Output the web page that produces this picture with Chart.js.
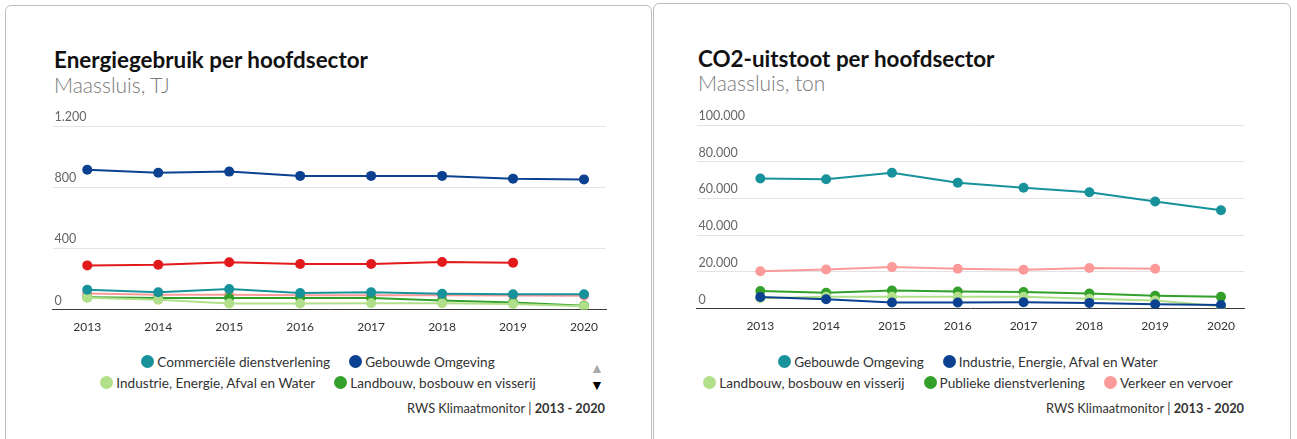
<!DOCTYPE html>
<html lang="nl">
<head>
<meta charset="utf-8">
<script src="https://cdn.jsdelivr.net/npm/chart.js@4.4.1/dist/chart.umd.min.js"></script>
<style>
  body { margin: 0; width: 1297px; height: 439px; overflow: hidden; background: #fff; font-family: Lato, "Open Sans", sans-serif; color: #333; position: relative; }
  .card { position: absolute; border: 1px solid #bdbdbd; border-radius: 6px; background: #fff; height: 480px; }
  .title { position: absolute; font-weight: 700; font-size: 22.4px; line-height: 26px; color: #111; white-space: nowrap; }
  .subtitle { position: absolute; font-weight: 300; font-size: 21px; line-height: 26px; color: #7a7a7a; white-space: nowrap; }
  .plot { position: absolute; }
  .legend { position: absolute; font-size: 13.6px; color: #333; }
  .legend .row { display: flex; justify-content: center; gap: 19px; height: 21px; align-items: center; }
  .legend .item { display: flex; align-items: center; white-space: nowrap; }
  .legend .dot { width: 13px; height: 13px; border-radius: 50%; margin-right: 3px; }
  .credits { position: absolute; font-size: 12.8px; line-height: 16px; text-align: right; white-space: nowrap; }
  .pager { position: absolute; font-size: 14px; line-height: 15px; text-align: center; width: 16px; }
</style>
</head>
<body>

<div class="card" style="left:5px; top:5px; width:645px;"></div>
<div class="card" style="left:653px; top:3px; width:636px;"></div>

<div class="title" style="left:54px; top:47px;">Energiegebruik per hoofdsector</div>
<div class="subtitle" style="left:54px; top:72px;">Maassluis, TJ</div>
<canvas id="energie" class="plot" width="575" height="250" style="left:45px; top:100px;"></canvas>
<div class="legend" id="legend-energie" style="left:100px; top:351px; width:436px;"></div>
<div class="pager" style="left:589px; top:360px; color:#aaa;">▲</div>
<div class="pager" style="left:589px; top:377px; color:#000;">▼</div>
<div class="credits" style="left:405px; top:400px; width:200px;">RWS Klimaatmonitor | <b>2013 - 2020</b></div>

<div class="title" style="left:698px; top:46px;">CO2-uitstoot per hoofdsector</div>
<div class="subtitle" style="left:698px; top:70px;">Maassluis, ton</div>
<canvas id="co2" class="plot" width="570" height="250" style="left:690px; top:100px;"></canvas>
<div class="legend" id="legend-co2" style="left:698px; top:351px; width:540px;"></div>
<div class="credits" style="left:1044px; top:400px; width:200px;">RWS Klimaatmonitor | <b>2013 - 2020</b></div>

<script>
(function () {
	'use strict';

	// jaren op de x-as
	const years = [2013, 2014, 2015, 2016, 2017, 2018, 2019, 2020];

	// Energiegebruik, TJ
	const energieCommercieel = [130, 113, 135, 109, 113, 104, 100, 100];
	const energieGebouwd = [914, 895, 902, 874, 874, 874, 856, 851];
	const energieIndustrie = [78, 65, 40, 40, 42, 42, 37, 22];
	const energieLandbouw = [80, 76, 76, 76, 76, 60, 46, 25];
	const energiePubliek = [106, 97, 97, 94, 94, 93, 92, 90];
	const energieVerkeer = [289, 293, 309, 298, 298, 311, 307, null];
	const energieTicks = [0, 400, 800, 1200];

	// CO2-uitstoot, ton
	const co2Gebouwd = [70900, 70500, 74000, 68600, 65800, 63400, 58300, 53600];
	const co2Industrie = [6300, 5100, 3300, 3300, 3500, 3100, 2400, 2000];
	const co2Landbouw = [5600, 6400, 6400, 6400, 6400, 5300, 4400, 1300];
	const co2Publiek = [9600, 8600, 9800, 9300, 9000, 8200, 7000, 6400];
	const co2Verkeer = [20300, 21300, 22600, 21700, 21200, 22100, 21700, null];
	const co2Ticks = [0, 20000, 40000, 60000, 80000, 100000];

	const colors = ['#17929b', '#0b4190', '#b2df8a', '#33a02c', '#fb9a99', '#e31a1c'];

	function nl(v) {
		return String(v).replace(/\B(?=(\d{3})+(?!\d))/g, '.');
	}

	function makeDatasets(series) {
		return series.map(function (s, i) {
			return {
				label: s[0],
				data: years.map(function (y, j) { return { x: y, y: s[1][j] }; }),
				borderColor: colors[i],
				backgroundColor: colors[i],
				pointBackgroundColor: colors[i],
				pointBorderWidth: 0,
				pointRadius: 5,
				borderWidth: 2,
				spanGaps: false
			};
		});
	}

	function makeChart(id, series, ticks, xMin, xMax, pad, legendId, legendRows) {
		const datasets = makeDatasets(series);
		new Chart(document.getElementById(id), {
			type: 'line',
			data: { datasets: datasets },
			options: {
				responsive: false,
				animation: false,
				events: [],
				layout: { padding: pad },
				plugins: { legend: false, tooltip: { enabled: false } },
				scales: {
					x: {
						type: 'linear',
						min: xMin,
						max: xMax,
						afterBuildTicks: function (scale) {
							scale.ticks = years.map(function (v) { return { value: v }; });
						},
						grid: { display: false, drawTicks: false },
						border: { display: true, color: '#3a3a3a', width: 1 },
						ticks: {
							padding: 10,
							color: '#333',
							font: { family: 'Lato', size: 12 },
							callback: function (v) { return String(v); }
						}
					},
					y: {
						min: ticks[0],
						max: ticks[ticks.length - 1],
						afterBuildTicks: function (scale) {
							scale.ticks = ticks.map(function (v) { return { value: v }; });
						},
						grid: { color: '#e3e3e3', lineWidth: 1, drawTicks: false },
						border: { display: false },
						ticks: {
							mirror: true,
							padding: 2,
							labelOffset: -9,
							color: '#666',
							font: { family: 'Lato', size: 12.5 },
							callback: function (v) { return nl(v); }
						}
					}
				}
			}
		});

		// legenda (eerste pagina)
		const legend = document.getElementById(legendId);
		let idx = 0;
		legendRows.forEach(function (n) {
			const row = document.createElement('div');
			row.className = 'row';
			for (let k = 0; k < n; k++, idx++) {
				const item = document.createElement('div');
				item.className = 'item';
				const dot = document.createElement('span');
				dot.className = 'dot';
				dot.style.background = datasets[idx].borderColor;
				const txt = document.createElement('span');
				txt.textContent = datasets[idx].label;
				item.appendChild(dot);
				item.appendChild(txt);
				row.appendChild(item);
			}
			legend.appendChild(row);
		});
	}

	makeChart('energie', [
		['Commerciële dienstverlening', energieCommercieel],
		['Gebouwde Omgeving', energieGebouwd],
		['Industrie, Energie, Afval en Water', energieIndustrie],
		['Landbouw, bosbouw en visserij', energieLandbouw],
		['Publieke dienstverlening', energiePubliek],
		['Verkeer en vervoer', energieVerkeer]
	], energieTicks, 2012.51, 2020.31, { left: 3.5, right: 14, top: 26, bottom: 6 }, 'legend-energie', [2, 2]);

	makeChart('co2', [
		['Gebouwde Omgeving', co2Gebouwd],
		['Industrie, Energie, Afval en Water', co2Industrie],
		['Landbouw, bosbouw en visserij', co2Landbouw],
		['Publieke dienstverlening', co2Publiek],
		['Verkeer en vervoer', co2Verkeer]
	], co2Ticks, 2012.03, 2020.35, { left: 2.5, right: 16, top: 25, bottom: 7 }, 'legend-co2', [2, 3]);
})();
</script>
</body>
</html>
